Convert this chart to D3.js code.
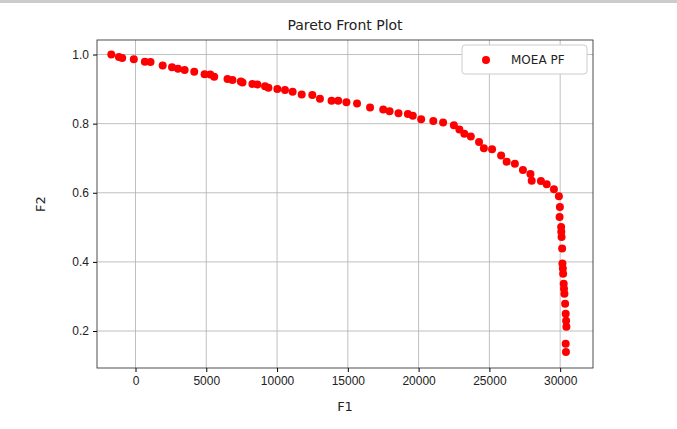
<!DOCTYPE html>
<html><head><meta charset="utf-8">
<script src="https://cdn.jsdelivr.net/npm/d3@7"></script>
<style>body{margin:0;background:#fff}svg{font-family:"DejaVu Sans",sans-serif}</style>
</head><body>
<svg id="chart" width="677" height="429"></svg>
<script>
var f1 = [-1710,-1170,-940,-120,660,1060,1920,2580,3000,3470,4150,4880,5280,5560,6500,6850,7440,7560,8260,8610,9150,9390,10020,10560,11100,11740,12490,13030,13850,14320,14900,15650,16570,17500,17950,18580,19240,19590,20180,
  21040,21730,22490,22880,23230,23690,24270,24610,25190,25830,26220,26800,27370,27900,27990,28640,29050,29560,29910,29980,29960,30070,30080,30100,30140,30160,30190,30210,30250,30270,30300,30350,30390,30420,30440,30390,30410];
var f2 = [1.0,0.993,0.99,0.986,0.979,0.978,0.968,0.963,0.959,0.955,0.95,0.943,0.942,0.936,0.929,0.926,0.922,0.919,0.915,0.913,0.908,0.904,0.9,0.897,0.892,0.884,0.883,0.872,0.866,0.866,0.862,0.858,0.847,0.841,0.836,0.83,0.828,0.823,0.813,
  0.808,0.803,0.795,0.783,0.771,0.763,0.747,0.729,0.726,0.708,0.69,0.684,0.666,0.654,0.635,0.634,0.625,0.61,0.59,0.559,0.53,0.501,0.487,0.472,0.439,0.395,0.381,0.366,0.337,0.322,0.308,0.279,0.25,0.23,0.212,0.163,0.139];
var xTicks = [0,5000,10000,15000,20000,25000,30000];
var yTicks = [0.2,0.4,0.6,0.8,1.0];

var svg = d3.select('#chart');
svg.append('rect').attr('width',677).attr('height',3).attr('fill','#ccc');
var x = d3.scaleLinear().domain([-2720,32320]).range([97,593]);
var y = d3.scaleLinear().domain([0.093,1.042]).range([368,40]);

var grid = svg.append('g').attr('stroke','#b0b0b0').attr('stroke-width',0.8);
grid.selectAll('.gx').data(xTicks).enter().append('line')
  .attr('x1',x).attr('x2',x).attr('y1',40).attr('y2',368);
grid.selectAll('.gy').data(yTicks).enter().append('line')
  .attr('y1',y).attr('y2',y).attr('x1',97).attr('x2',593);

svg.append('g').attr('transform','translate(0,368)')
  .call(d3.axisBottom(x).tickValues(xTicks).tickSize(4).tickPadding(4).tickFormat(d3.format('d')))
  .call(g => g.select('.domain').remove())
  .selectAll('text').attr('font-size',12).attr('fill','#222');
svg.append('g').attr('transform','translate(97,0)')
  .call(d3.axisLeft(y).tickValues(yTicks).tickSize(4).tickPadding(4).tickFormat(d3.format('.1f')))
  .call(g => g.select('.domain').remove())
  .selectAll('text').attr('font-size',12).attr('fill','#222');
svg.append('rect').attr('x',97).attr('y',40).attr('width',496).attr('height',328)
  .attr('fill','none').attr('stroke','#222').attr('stroke-width',0.8);

svg.selectAll('.pt').data(f1).enter().append('circle')
  .attr('cx',d => x(d)).attr('cy',(d,i) => y(f2[i])).attr('r',4).attr('fill','red');

svg.append('text').attr('x',345).attr('y',30).attr('text-anchor','middle').attr('font-size',14).attr('fill','#222').text('Pareto Front Plot');
svg.append('text').attr('x',345).attr('y',411).attr('text-anchor','middle').attr('font-size',13).attr('fill','#222').text('F1');
svg.append('text').attr('transform','translate(45,204) rotate(-90)').attr('text-anchor','middle').attr('font-size',13).attr('fill','#222').text('F2');

var lg = svg.append('g');
lg.append('rect').attr('x',462).attr('y',45).attr('width',125).attr('height',29).attr('rx',3)
  .attr('fill','#fff').attr('stroke','#ccc');
lg.append('circle').attr('cx',486).attr('cy',60).attr('r',4).attr('fill','red');
lg.append('text').attr('x',511).attr('y',64).attr('font-size',12).attr('fill','#222').text('MOEA PF');
</script>
</body></html>
